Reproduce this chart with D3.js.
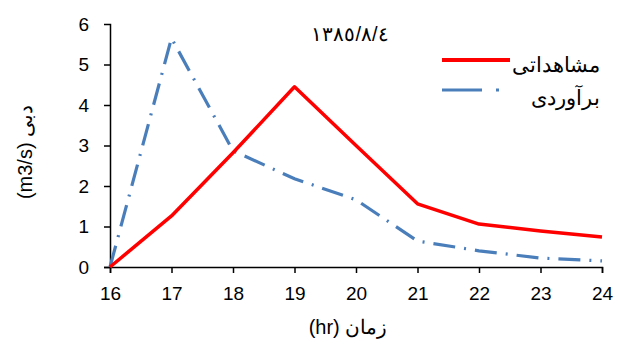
<!DOCTYPE html>
<html>
<head>
<meta charset="utf-8">
<script src="https://cdn.jsdelivr.net/npm/d3@7/dist/d3.min.js"></script>
<style>
  body { margin: 0; background: #fff; }
  text { font-family: "Liberation Sans", Arial, sans-serif; fill: #000; }
</style>
</head>
<body>
<div id="chart"></div>
<script>
const hours = [16, 17, 18, 19, 20, 21, 22, 23, 24];
const observed = [0, 1.26, 2.82, 4.45, 3.0, 1.56, 1.06, 0.89, 0.74];
const estimated = [0, 5.65, 2.87, 2.18, 1.66, 0.64, 0.4, 0.22, 0.15];
const yTicks = [0, 1, 2, 3, 4, 5, 6];
const seriesNames = ['مشاهداتی', 'برآوردی'];
const dateLabel = '١٣٨٥/٨/٤';

const width = 619, height = 349;
const margin = { top: 24, right: 17, bottom: 82, left: 110 };
const w = width - margin.left - margin.right;
const h = height - margin.top - margin.bottom;

const svg = d3.select('#chart').append('svg')
  .attr('width', width)
  .attr('height', height);

const chart = svg.append('g')
  .attr('transform', `translate(${margin.left},${margin.top})`);

const x = d3.scaleLinear().domain([16, 24]).range([0, w]);
const y = d3.scaleLinear().domain([0, 6]).range([h, 0]);

const xAxis = d3.axisBottom(x).tickValues(hours).tickFormat(d3.format('d')).tickSize(6).tickPadding(14);
const yAxis = d3.axisLeft(y).tickValues(yTicks).tickFormat(d3.format('d')).tickSize(6).tickPadding(15);

const gx = chart.append('g')
  .attr('transform', `translate(0,${h})`)
  .call(xAxis);
const gy = chart.append('g').call(yAxis);

[gx, gy].forEach(g => {
  g.select('.domain').attr('stroke', '#000').attr('stroke-width', 1.5);
  g.selectAll('.tick line').attr('stroke', '#000').attr('stroke-width', 1.5);
  g.selectAll('.tick text')
    .attr('font-size', 19)
    .attr('fill', '#000')
    .style('font-family', '"Liberation Sans", Arial, sans-serif');
});
gy.selectAll('.tick').filter(d => d === 6).select('line').remove();

const line = d3.line()
  .x((d, i) => x(hours[i]))
  .y(d => y(d));

chart.append('path')
  .datum(estimated)
  .attr('fill', 'none')
  .attr('stroke', '#4a7ebb')
  .attr('stroke-width', 3.2)
  .attr('stroke-dasharray', '22,9,2,9')
  .attr('d', line);

chart.append('path')
  .datum(observed)
  .attr('fill', 'none')
  .attr('stroke', '#ff0000')
  .attr('stroke-width', 3.5)
  .attr('stroke-linejoin', 'round')
  .attr('d', line);

// title (date)
svg.append('text')
  .attr('x', 350)
  .attr('y', 41)
  .attr('text-anchor', 'middle')
  .attr('font-size', 20)
  .attr('letter-spacing', 3)
  .text(dateLabel);

// legend
const legend = svg.append('g');
legend.append('line')
  .attr('x1', 442).attr('x2', 510).attr('y1', 60).attr('y2', 60)
  .attr('stroke', '#ff0000').attr('stroke-width', 4);
legend.append('line')
  .attr('x1', 442).attr('x2', 505).attr('y1', 90).attr('y2', 90)
  .attr('stroke', '#4a7ebb').attr('stroke-width', 3)
  .attr('stroke-dasharray', '40,14,3,20');
legend.selectAll('text.leg')
  .data(seriesNames)
  .enter().append('text')
  .attr('class', 'leg')
  .attr('x', 600)
  .attr('y', (d, i) => 72 + i * 33)
  .attr('text-anchor', 'end')
  .attr('font-size', 21)
  .text(d => d);

// axis titles
svg.append('text')
  .attr('x', 348)
  .attr('y', 334)
  .attr('text-anchor', 'middle')
  .attr('font-size', 20)
  .text('(hr) زمان');

svg.append('text')
  .attr('transform', 'translate(32,152) rotate(-90)')
  .attr('text-anchor', 'middle')
  .attr('font-size', 20)
  .text('(m3/s) دبی');
</script>
</body>
</html>
